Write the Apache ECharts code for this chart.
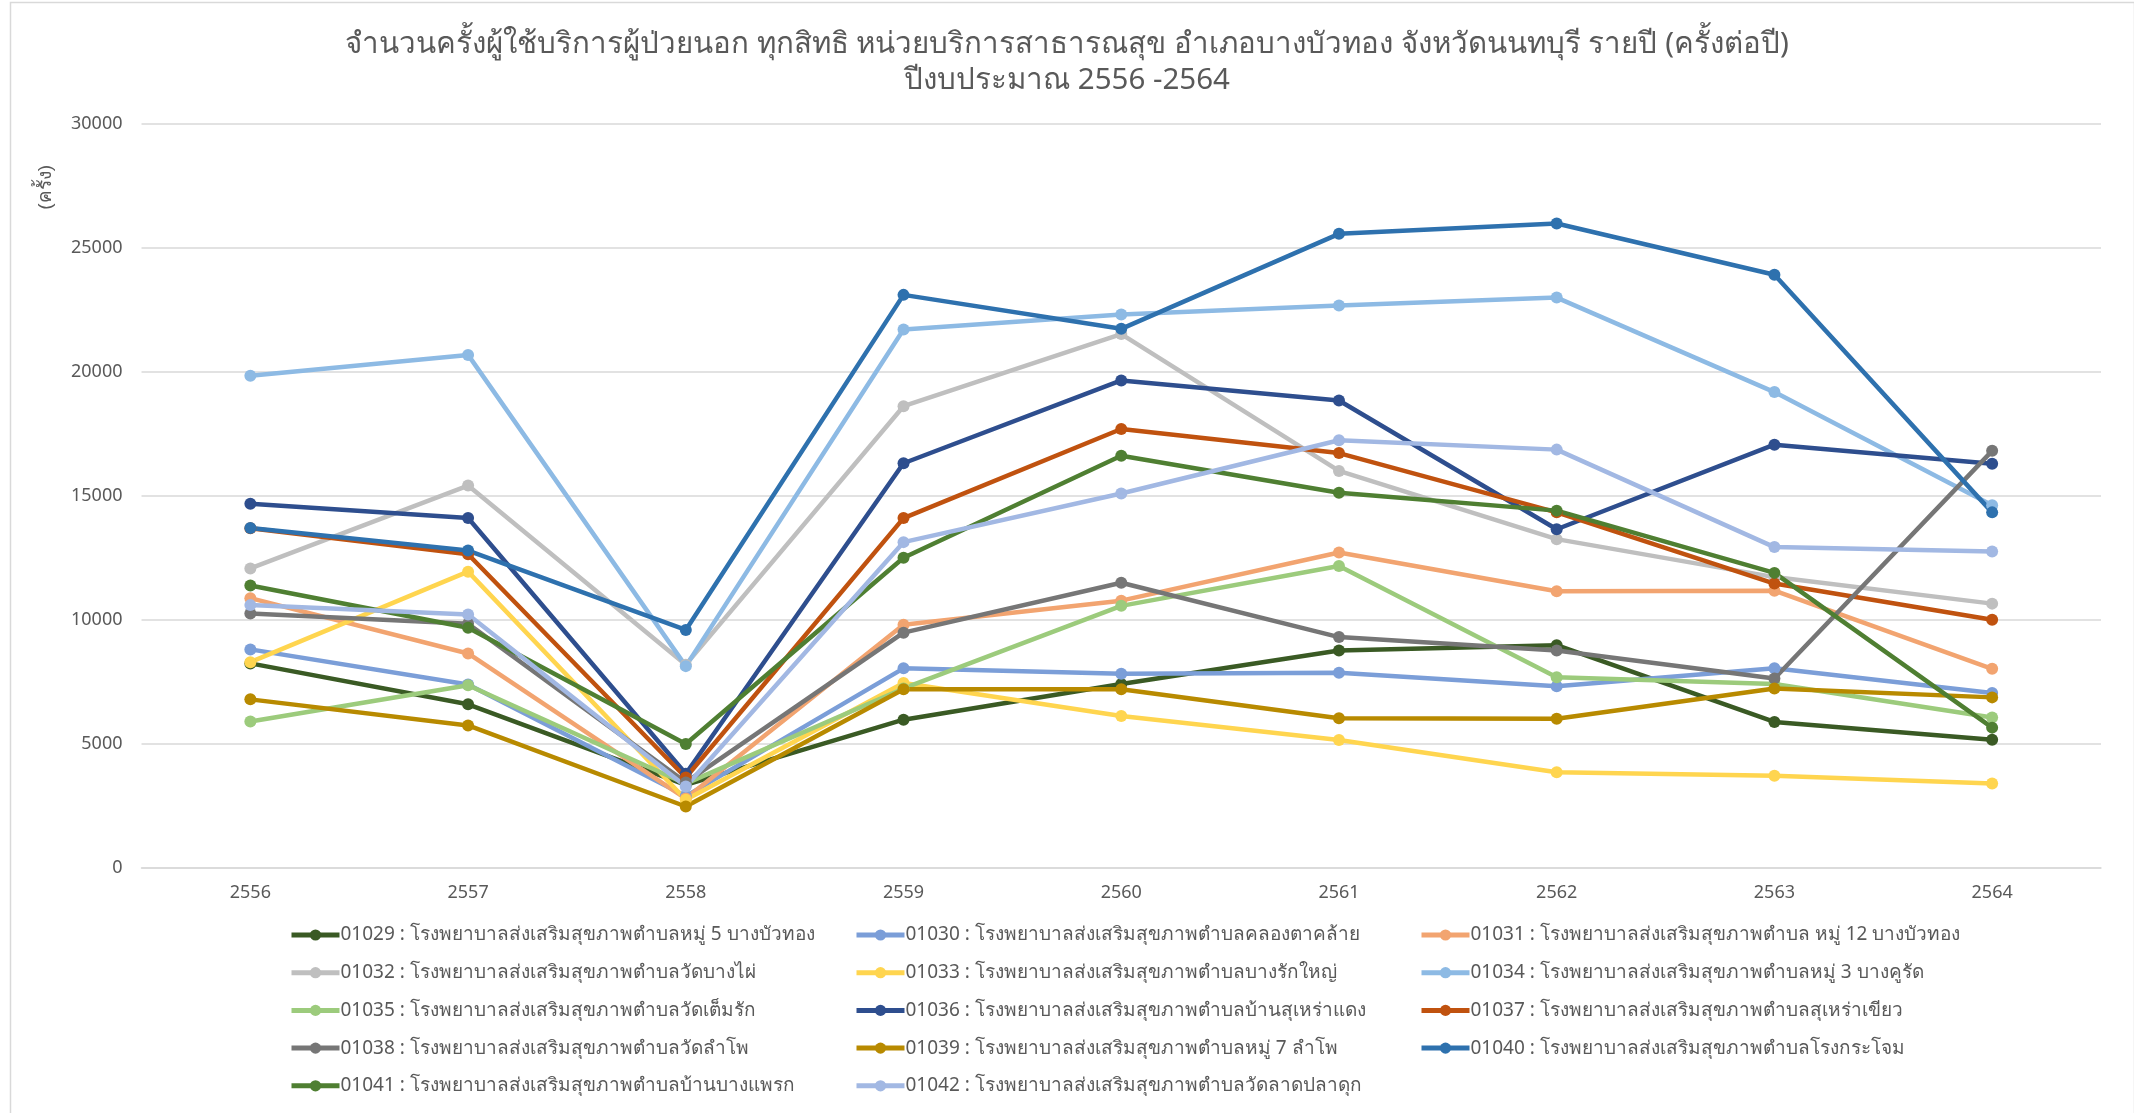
<!DOCTYPE html>
<html><head><meta charset="utf-8">
<script src="https://cdn.jsdelivr.net/npm/echarts@6/dist/echarts.min.js"></script>
<style>html,body{margin:0;padding:0;background:#fff}#c{width:2134px;height:1113px}</style>
</head><body><div id="c"></div>
<script>
const years = ['2556','2557','2558','2559','2560','2561','2562','2563','2564'];
const yTicks = [0, 5000, 10000, 15000, 20000, 25000, 30000];
const titleText = 'จำนวนครั้งผู้ใช้บริการผู้ป่วยนอก ทุกสิทธิ หน่วยบริการสาธารณสุข อำเภอบางบัวทอง จังหวัดนนทบุรี รายปี (ครั้งต่อปี)\nปีงบประมาณ 2556 -2564';
const yName = '(ครั้ง)';
const names = [
 '01029 : โรงพยาบาลส่งเสริมสุขภาพตำบลหมู่ 5 บางบัวทอง',
 '01030 : โรงพยาบาลส่งเสริมสุขภาพตำบลคลองตาคล้าย',
 '01031 : โรงพยาบาลส่งเสริมสุขภาพตำบล หมู่ 12 บางบัวทอง',
 '01032 : โรงพยาบาลส่งเสริมสุขภาพตำบลวัดบางไผ่',
 '01033 : โรงพยาบาลส่งเสริมสุขภาพตำบลบางรักใหญ่',
 '01034 : โรงพยาบาลส่งเสริมสุขภาพตำบลหมู่ 3 บางคูรัด',
 '01035 : โรงพยาบาลส่งเสริมสุขภาพตำบลวัดเต็มรัก',
 '01036 : โรงพยาบาลส่งเสริมสุขภาพตำบลบ้านสุเหร่าแดง',
 '01037 : โรงพยาบาลส่งเสริมสุขภาพตำบลสุเหร่าเขียว',
 '01038 : โรงพยาบาลส่งเสริมสุขภาพตำบลวัดลำโพ',
 '01039 : โรงพยาบาลส่งเสริมสุขภาพตำบลหมู่ 7 ลำโพ',
 '01040 : โรงพยาบาลส่งเสริมสุขภาพตำบลโรงกระโจม',
 '01041 : โรงพยาบาลส่งเสริมสุขภาพตำบลบ้านบางแพรก',
 '01042 : โรงพยาบาลส่งเสริมสุขภาพตำบลวัดลาดปลาดุก'
];
const s01029 = [8250, 6600, 3350, 5980, 7420, 8770, 8985, 5890, 5175];
const s01030 = [8815, 7400, 2900, 8050, 7835, 7870, 7330, 8050, 7060];
const s01031 = [10880, 8650, 2800, 9810, 10780, 12720, 11160, 11180, 8030];
const s01032 = [12080, 15420, 8200, 18620, 21530, 16010, 13260, 11730, 10660];
const s01033 = [8300, 11950, 2750, 7460, 6130, 5160, 3860, 3720, 3410];
const s01034 = [19850, 20690, 8140, 21710, 22320, 22680, 23000, 19190, 14630];
const s01035 = [5910, 7370, 3400, 7240, 10570, 12180, 7690, 7420, 6070];
const s01036 = [14690, 14110, 3800, 16320, 19660, 18850, 13660, 17070, 16300];
const s01037 = [13700, 12650, 3650, 14110, 17700, 16730, 14340, 11470, 10010];
const s01038 = [10260, 9850, 3450, 9490, 11500, 9310, 8770, 7640, 16820];
const s01039 = [6800, 5750, 2480, 7210, 7210, 6040, 6020, 7240, 6880];
const s01040 = [13710, 12800, 9600, 23110, 21740, 25570, 25990, 23920, 14340];
const s01041 = [11390, 9690, 5000, 12510, 16620, 15130, 14410, 11900, 5660];
const s01042 = [10600, 10220, 3290, 13140, 15100, 17250, 16870, 12940, 12760];
const allData = [s01029,s01030,s01031,s01032,s01033,s01034,s01035,s01036,s01037,s01038,s01039,s01040,s01041,s01042];
const colors = ['#3A5A24','#7B9ED8','#F2A470','#BFBFBF','#FFD54F','#8DBAE4','#9CCB7C','#2E4E8E','#C0520F','#767676','#B88A00','#2E71AE','#4F7F32','#A2B8E3'];

const font = "'Noto Sans','DejaVu Sans',sans-serif";
const series = names.map((n,i)=>({
  name:n, type:'line', data: allData[i],
  symbol:'circle', symbolSize:12,
  lineStyle:{width:4.5, color:colors[i]},
  itemStyle:{color:colors[i]},
  emphasis:{disabled:true}, animation:false
}));
function legendCol(idx, left){
  return {
    orient:'vertical', left:left, top:918, itemGap:13.7, itemWidth:48, itemHeight:14,
    lineStyle:{width:5},
    textStyle:{fontSize:19, color:'#595959', fontFamily:font, lineHeight:24, padding:[0,0,0,-4]},
    data: idx.map(i=>names[i]), selectedMode:false
  };
}
const chart = echarts.init(document.getElementById('c'));
chart.setOption({
  animation:false,
  color: colors,
  title:{text:titleText, left:'center', top:22, textStyle:{fontSize:29.5, fontWeight:'normal', color:'#595959', fontFamily:font, lineHeight:36}},
  grid:{left:141.5, right:33, top:124, bottom:245},
  xAxis:{type:'category', data:years, boundaryGap:true,
    axisLine:{lineStyle:{color:'#D9D9D9', width:1.5}}, axisTick:{show:false},
    axisLabel:{fontSize:18, color:'#595959', fontFamily:font, margin:16}},
  yAxis:{type:'value', min:yTicks[0], max:yTicks[yTicks.length-1], interval:5000,
    axisLine:{show:false}, axisTick:{show:false},
    splitLine:{lineStyle:{color:'#D9D9D9', width:1.5}},
    axisLabel:{fontSize:18, color:'#595959', fontFamily:font, margin:19, formatter:v=>String(v)}},
  legend:[legendCol([0,3,6,9,12],284), legendCol([1,4,7,10,13],849), legendCol([2,5,8,11],1414)],
  graphic:[
    {type:'text', left:36, top:165, rotation:Math.PI/2, style:{text:yName, fontSize:19, fill:'#595959', font:"19px 'Noto Sans', sans-serif"}},
    {type:'rect', left:8, top:0, shape:{width:2124, height:1112}, style:{fill:'none', stroke:'#D9D9D9', lineWidth:1.5}, silent:true}
  ],
  series: series
});
</script></body></html>
